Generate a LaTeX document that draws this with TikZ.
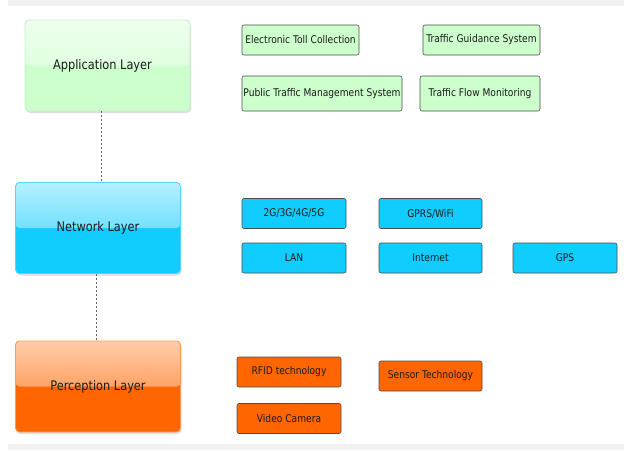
\documentclass[tikz,border=0pt]{standalone}
\usepackage{fontspec}
\setmainfont{DejaVu Sans}[FakeStretch=0.86]
\usetikzlibrary{shadows}

\definecolor{appgreen}{HTML}{CCFFCC}
\definecolor{apptop}{HTML}{EEFFEE}
\definecolor{appline}{HTML}{C4EEC4}
\definecolor{netblue}{HTML}{11CCFF}
\definecolor{nettop}{HTML}{B4F0FF}
\definecolor{netline}{HTML}{55D4FF}
\definecolor{perorange}{HTML}{FF6600}
\definecolor{pertop}{HTML}{FFCDAA}
\definecolor{perline}{HTML}{FF9A5C}
\definecolor{bandgrey}{HTML}{F1F1F1}
\definecolor{inkgrey}{HTML}{1A1A1A}

\tikzset{
    layer/.style n args={3}{draw=#3, line width=0.9pt, rounded corners=4pt,
        minimum width=165pt, minimum height=91pt, inner sep=0pt, text=inkgrey,
        font=\fontsize{13.2}{16}\selectfont, fill=#2,
        drop shadow={shadow xshift=1pt, shadow yshift=-2pt, opacity=0.25, path picture={}},
        path picture={
            \shade[top color=#1, bottom color=#2!82!#1]
                (path picture bounding box.north west) rectangle (path picture bounding box.east);
        }},
    item/.style={draw=black!70, line width=0.6pt, rounded corners=2pt, fill=#1,
        minimum height=30pt, inner sep=0pt, text=inkgrey, font=\fontsize{10.6}{12}\selectfont},
    link/.style={draw=black!60, line width=0.6pt, dash pattern=on 2pt off 2pt},
}

\begin{document}
\begin{tikzpicture}[x=1pt, y=-1pt]
    \useasboundingbox (0,0) rectangle (624,450);

    % grey bands
    \fill[bandgrey] (8,0) rectangle (624,6);
    \fill[bandgrey] (8,444) rectangle (624,450);

    % layers
    \node[layer={apptop}{appgreen}{appline}] (app) at (107.5,65.5) {\hspace*{-10pt}Application Layer};
    \node[layer={nettop}{netblue}{netline}] (net) at (98,228) {Network Layer};
    \node[layer={pertop}{perorange}{perline}] (per) at (98,386.5) {Perception Layer};

    \draw[link] ([xshift=3pt]net.north |- app.south) -- ([xshift=3pt]net.north);
    \draw[link] ([xshift=-2pt]net.south) -- ([xshift=-2pt]per.north);

    % application layer
    \node[item=appgreen, minimum width=117pt] (etc) at (300.5,40) {Electronic Toll Collection};
    \node[item=appgreen, minimum width=117pt] (tgs) at (481.5,40) {Traffic Guidance System};
    \node[item=appgreen, minimum width=160pt, minimum height=35pt] (ptms) at (322,93.5) {Public Traffic Management System};
    \node[item=appgreen, minimum width=120pt, minimum height=35pt] (tfm) at (480,93.5) {Traffic Flow Monitoring};

    % network layer
    \node[item=netblue, minimum width=104pt] (cell) at (294,213.5) {2G/3G/4G/5G};
    \node[item=netblue, minimum width=103pt] (gprs) at (430.5,213.5) {GPRS/WiFi};
    \node[item=netblue, minimum width=104pt] (lan) at (294,258) {LAN};
    \node[item=netblue, minimum width=103pt] (inet) at (430.5,258) {Internet};
    \node[item=netblue, minimum width=104pt] (gps) at (565,258) {GPS};

    % perception layer
    \node[item=perorange, minimum width=104pt] (rfid) at (289,372) {RFID technology};
    \node[item=perorange, minimum width=103pt] (sens) at (430.5,376) {Sensor Technology};
    \node[item=perorange, minimum width=104pt] (cam) at (289,418.5) {Video Camera};
\end{tikzpicture}
\end{document}
